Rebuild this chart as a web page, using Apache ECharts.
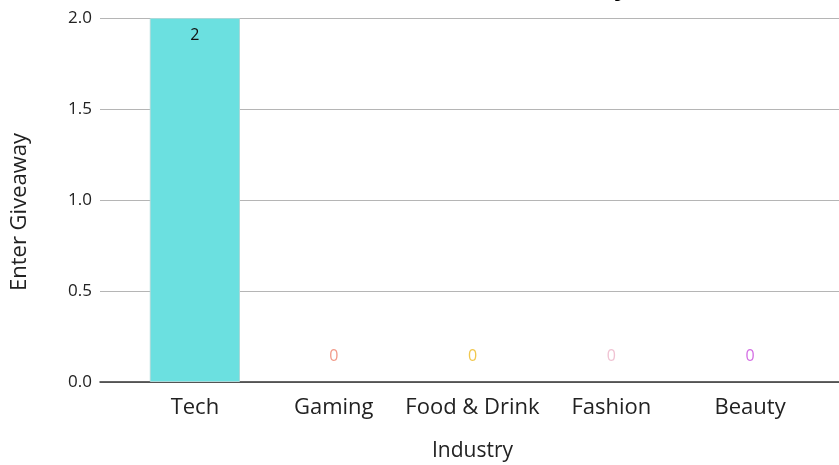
<!DOCTYPE html>
<html>
<head>
<meta charset="utf-8">
<script src="https://cdn.jsdelivr.net/npm/echarts@6/dist/echarts.min.js"></script>
<style>
  html, body { margin: 0; padding: 0; background: #fff; }
  #chart { width: 839px; height: 465px; }
</style>
</head>
<body>
<div id="chart"></div>
<script>
// data
const industries = ['Tech', 'Gaming', 'Food & Drink', 'Fashion', 'Beauty']
const entries = [2, 0, 0, 0, 0]
const barColors = ['#6be0e0', '#f29b8a', '#f1c84f', '#f0c3d3', '#d46ee4']
const yTicks = [0, 0.5, 1, 1.5, 2]

const font = '"Open Sans", Lato, sans-serif'

const chart = echarts.init(document.getElementById('chart'))

const barData = entries.map((v, i) => {
  const item = { value: v, itemStyle: { color: barColors[i] } }
  if (v === 0) {
    item.itemStyle.borderWidth = 0
    item.label = { position: 'top', distance: 18, color: barColors[i] }
  }
  return item
})

const option = {
  animation: false,
  // the title sits mostly above the canvas, only the tail of its last letter shows
  title: {
    text: 'Total Entries Per Industry',
    right: 205,
    top: -30,
    textStyle: { fontFamily: font, fontWeight: 'bold', fontSize: 26, color: '#000' }
  },
  grid: [
    // wide grid for the split lines and the base line
    { left: 100, right: 0, top: 18, bottom: 83, outerBoundsMode: 'none' },
    // grid holding the bars
    { left: 125.5, right: 19.5, top: 18, bottom: 83, outerBoundsMode: 'none' }
  ],
  xAxis: [
    {
      gridIndex: 0,
      type: 'value',
      min: 0,
      max: 1,
      axisLine: { show: true, onZero: false, lineStyle: { color: '#333', width: 1.5 } },
      axisTick: { show: false },
      axisLabel: { show: false },
      splitLine: { show: false }
    },
    {
      gridIndex: 1,
      type: 'category',
      data: industries,
      axisLine: { show: false },
      axisTick: { show: false },
      axisLabel: { interval: 0, fontFamily: font, fontSize: 22, color: '#222', margin: 15 },
      name: 'Industry',
      nameLocation: 'middle',
      nameGap: 59,
      nameTextStyle: { fontFamily: font, fontSize: 21, color: '#222' }
    }
  ],
  yAxis: [
    {
      gridIndex: 0,
      type: 'value',
      min: yTicks[0],
      max: yTicks[yTicks.length - 1],
      interval: 0.5,
      axisLine: { show: false },
      axisTick: { show: false },
      axisLabel: {
        fontFamily: font, fontSize: 17, color: '#222', margin: 8,
        formatter: (v) => v.toFixed(1)
      },
      splitLine: { lineStyle: { color: '#b5b5b5', width: 1.2 } },
      name: 'Enter Giveaway',
      nameLocation: 'middle',
      nameGap: 69,
      nameTextStyle: { fontFamily: font, fontSize: 22, color: '#222', padding: [0, 24, 0, 0] }
    },
    {
      gridIndex: 1,
      type: 'value',
      min: yTicks[0],
      max: yTicks[yTicks.length - 1],
      interval: 0.5,
      show: false,
      splitLine: { show: false }
    }
  ],
  series: [
    {
      type: 'bar',
      xAxisIndex: 1,
      yAxisIndex: 1,
      barWidth: '65%',
      data: barData,
      itemStyle: { borderColor: '#a9d9d9', borderWidth: 1 },
      label: {
        show: true,
        position: 'insideTop',
        distance: 9,
        fontFamily: font,
        fontSize: 16,
        color: '#111'
      }
    }
  ]
}

chart.setOption(option)
</script>
</body>
</html>
